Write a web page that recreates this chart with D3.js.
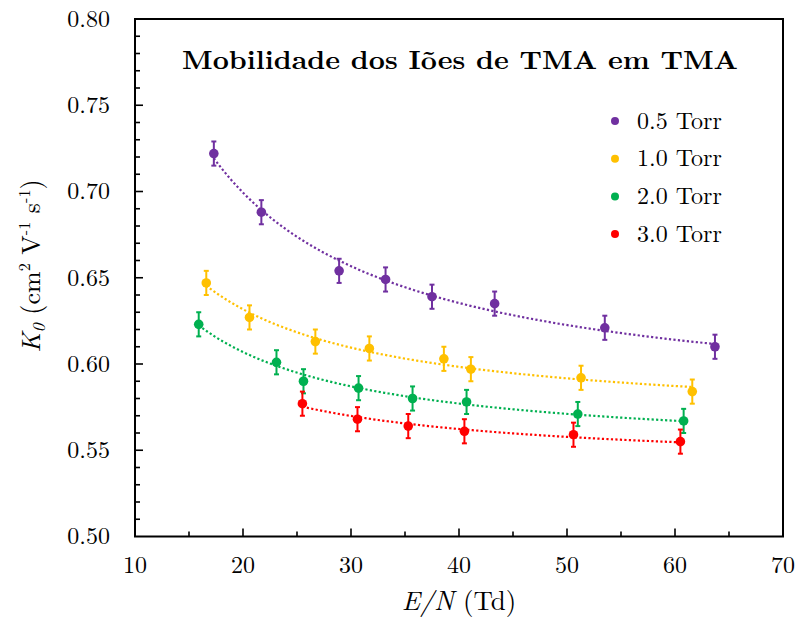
<!DOCTYPE html>
<html>
<head>
<meta charset="utf-8">
<script src="https://cdn.jsdelivr.net/npm/d3@7"></script>
</head>
<body style="margin:0;background:#fff">
<svg id="chart" width="795" height="622" style="display:block"></svg>
<script>
// Reduced field E/N (Td) and reduced mobility K0 (cm2 V-1 s-1) per pressure
const seriesNames = ["0.5 Torr", "1.0 Torr", "2.0 Torr", "3.0 Torr"];
const seriesColors = ["#7030A0", "#FFC000", "#00B050", "#FF0000"];

const en05 = [17.3, 21.7, 28.9, 33.2, 37.5, 43.3, 53.5, 63.7];
const k05  = [0.722, 0.688, 0.654, 0.649, 0.639, 0.635, 0.621, 0.610];

const en10 = [16.6, 20.6, 26.7, 31.7, 38.6, 41.1, 51.3, 61.6];
const k10  = [0.647, 0.627, 0.613, 0.609, 0.603, 0.597, 0.592, 0.584];

const en20 = [15.9, 23.1, 25.6, 30.7, 35.7, 40.7, 51.0, 60.8];
const k20  = [0.623, 0.601, 0.590, 0.586, 0.580, 0.578, 0.571, 0.567];

const en30 = [25.5, 30.6, 35.3, 40.5, 50.6, 60.5];
const k30  = [0.577, 0.568, 0.564, 0.561, 0.559, 0.555];

const kError = 0.007;

const xTicks = [10, 20, 30, 40, 50, 60, 70];
const yTicks = [0.50, 0.55, 0.60, 0.65, 0.70, 0.75, 0.80];

const series = [
  { name: seriesNames[0], color: seriesColors[0], x: en05, y: k05 },
  { name: seriesNames[1], color: seriesColors[1], x: en10, y: k10 },
  { name: seriesNames[2], color: seriesColors[2], x: en20, y: k20 },
  { name: seriesNames[3], color: seriesColors[3], x: en30, y: k30 }
];

const FONT = '"Latin Modern Roman", "Liberation Serif", serif';
const svg = d3.select("#chart").style("font-family", FONT);
const plot = { left: 135, right: 783, top: 19, bottom: 536.5 };

const x = d3.scaleLinear().domain([10, 70]).range([plot.left, plot.right]);
const y = d3.scaleLinear().domain([0.50, 0.80]).range([plot.bottom, plot.top]);

// Least-squares fit K0 = a + b / (E/N), used for the dotted trend lines
function hyperbolicFit(xs, ys) {
  const u = xs.map(v => 1 / v);
  const mu = d3.mean(u), my = d3.mean(ys);
  let sxy = 0, sxx = 0;
  u.forEach((ui, i) => { sxy += (ui - mu) * (ys[i] - my); sxx += (ui - mu) * (ui - mu); });
  const b = sxy / sxx;
  const a = my - b * mu;
  return v => a + b / v;
}

// Trend lines
const line = d3.line().x(d => x(d[0])).y(d => y(d[1]));
series.forEach(s => {
  const f = hyperbolicFit(s.x, s.y);
  const [x0, x1] = d3.extent(s.x);
  const pts = d3.range(0, 121).map(i => {
    const v = x0 + (x1 - x0) * i / 120;
    return [v, f(v)];
  });
  svg.append("path")
    .attr("d", line(pts))
    .attr("fill", "none")
    .attr("stroke", s.color)
    .attr("stroke-width", 2.2)
    .attr("stroke-dasharray", "2.2,2.3");
});

// Error bars and markers
series.forEach(s => {
  const g = svg.append("g");
  s.x.forEach((xv, i) => {
    const cx = x(xv);
    const yTop = y(s.y[i] + kError), yBot = y(s.y[i] - kError);
    g.append("line").attr("x1", cx).attr("x2", cx).attr("y1", yTop).attr("y2", yBot)
      .attr("stroke", s.color).attr("stroke-width", 2);
    [yTop, yBot].forEach(yy => {
      g.append("line").attr("x1", cx - 2.5).attr("x2", cx + 2.5).attr("y1", yy).attr("y2", yy)
        .attr("stroke", s.color).attr("stroke-width", 2);
    });
    g.append("circle").attr("cx", cx).attr("cy", y(s.y[i])).attr("r", 4.8).attr("fill", s.color);
  });
});

// Frame
svg.append("rect")
  .attr("x", plot.left).attr("y", plot.top)
  .attr("width", plot.right - plot.left).attr("height", plot.bottom - plot.top)
  .attr("fill", "none").attr("stroke", "#000").attr("stroke-width", 2);

// Inward ticks: majors from the tick arrays, minors in between
const tickG = svg.append("g").attr("stroke", "#000").attr("stroke-width", 1.6);
d3.range(10, 70.01, 5).forEach(v => {
  const major = xTicks.includes(v);
  if (v === 10 || v === 70) return;
  tickG.append("line").attr("x1", x(v)).attr("x2", x(v))
    .attr("y1", plot.bottom).attr("y2", plot.bottom - (major ? 8 : 5));
});
d3.range(0, 31).forEach(i => {
  const v = 0.50 + i * 0.01;
  if (i === 0 || i === 30) return;
  const major = i % 5 === 0;
  tickG.append("line").attr("x1", plot.left).attr("x2", plot.left + (major ? 8 : 5))
    .attr("y1", y(v)).attr("y2", y(v));
});

// Tick labels
svg.append("g").selectAll("text").data(xTicks).join("text")
  .style("font-family", FONT)
  .attr("x", d => x(d)).attr("y", 573)
  .attr("text-anchor", "middle").attr("font-size", 24)
  .text(d => d);
svg.append("g").selectAll("text").data(yTicks).join("text")
  .style("font-family", FONT)
  .attr("x", 110).attr("y", d => y(d) + 7.8)
  .attr("text-anchor", "end").attr("font-size", 24)
  .text(d => d.toFixed(2));

// Axis titles
const xt = svg.append("text").style("font-family", FONT)
  .attr("x", 459).attr("y", 610)
  .attr("text-anchor", "middle").attr("font-size", 27);
xt.append("tspan").attr("font-style", "italic").text("E/N");
xt.append("tspan").text(" (Td)");

const yt = svg.append("text").style("font-family", FONT)
  .attr("transform", "translate(40,266) rotate(-90)")
  .attr("text-anchor", "middle").attr("font-size", 26);
yt.append("tspan").attr("font-style", "italic").text("K");
yt.append("tspan").attr("font-style", "italic").attr("font-size", 18).attr("dy", 5).text("0");
yt.append("tspan").attr("dy", -5).text(" (cm");
yt.append("tspan").attr("font-size", 16).attr("dy", -10).text("2");
yt.append("tspan").attr("dy", 10).text(" V");
yt.append("tspan").attr("font-size", 16).attr("dy", -10).text("-1");
yt.append("tspan").attr("dy", 10).text(" s");
yt.append("tspan").attr("font-size", 16).attr("dy", -10).text("-1");
yt.append("tspan").attr("dy", 10).text(")");

// Title
svg.append("text").style("font-family", FONT)
  .attr("x", 460).attr("y", 69)
  .attr("text-anchor", "middle").attr("font-size", 26).attr("font-weight", "bold")
  .attr("textLength", 556).attr("lengthAdjust", "spacingAndGlyphs")
  .text("Mobilidade dos Iões de TMA em TMA");

// Legend
const legend = svg.append("g").selectAll("g").data(series).join("g")
  .attr("transform", (d, i) => `translate(615,${121 + i * 37.7})`);
legend.append("circle").attr("r", 4).attr("fill", d => d.color);
legend.append("text").style("font-family", FONT)
  .attr("x", 22).attr("y", 7.5).attr("font-size", 24).text(d => d.name);
</script>
</body>
</html>
